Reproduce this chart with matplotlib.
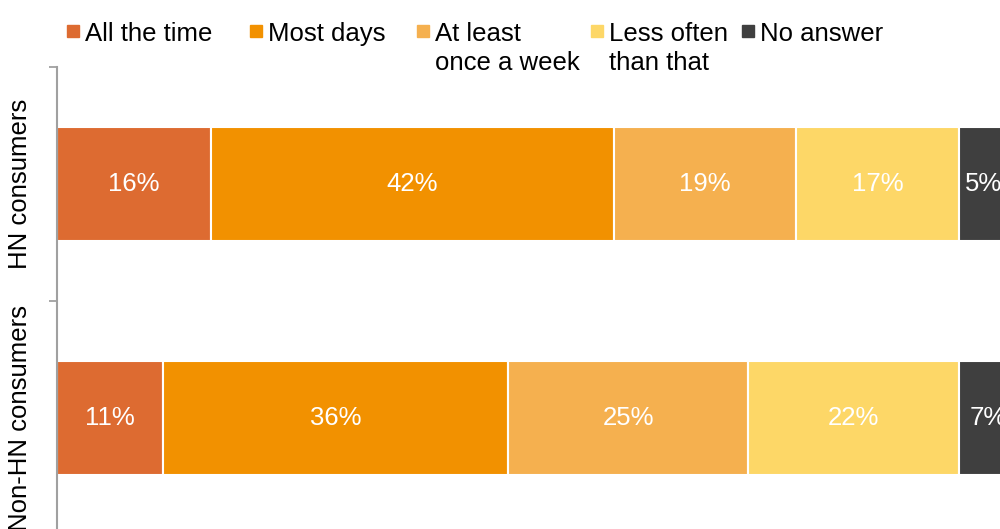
import numpy as np
import matplotlib.pyplot as plt
from matplotlib.patches import Rectangle

plt.rcParams['font.family'] = ['Liberation Sans', 'DejaVu Sans']

groups = ['HN consumers', 'Non-HN consumers']
answers = ['All the time', 'Most days', 'At least\nonce a week', 'Less often\nthan that', 'No answer']
colors = ['#dd6b31', '#f29100', '#f5b04f', '#fdd767', '#3f3f3f']

hn = [16, 42, 19, 17, 5]
non_hn = [11, 36, 25, 22, 7]

values = np.array([hn, non_hn])

fig = plt.figure(figsize=(10, 5.29), dpi=100)
# axes runs a little past the right and bottom edges of the figure
ax = fig.add_axes([0.057, -6 / 529, 0.96, 468 / 529])

y = np.arange(len(groups))
left = np.zeros(len(groups))
for i, name in enumerate(answers):
    bars = ax.barh(y, values[:, i], left=left, height=0.49, color=colors[i],
                   edgecolor='white', linewidth=1.5, label=name)
    ax.bar_label(bars, labels=[f'{v}%' for v in values[:, i]], label_type='center',
                 color='white', fontsize=18.5)
    left += values[:, i]

ax.set_xlim(0, 100)
ax.set_ylim(1.5, -0.5)
ax.set_xticks([])
ax.set_yticks(y)
ax.set_yticklabels(groups, rotation=90, va='center', fontsize=18.5)
ax.set_yticks([-0.5, 0.5, 1.5], minor=True)
ax.tick_params(axis='y', which='major', length=0, pad=18)
ax.tick_params(axis='y', which='minor', length=6, width=1.3, color='#a0a0a0')
for side in ['top', 'right', 'bottom']:
    ax.spines[side].set_visible(False)
ax.spines['left'].set_color('#a0a0a0')
ax.spines['left'].set_linewidth(1.5)

# legend row along the top, markers aligned with the first text line
legend_x = [67, 250, 417, 591, 742]
for x0, name, c in zip(legend_x, answers, colors):
    fig.patches.append(Rectangle((x0 / 1000, 1 - 37 / 529), 12 / 1000, 12 / 529,
                                 transform=fig.transFigure, color=c))
    fig.text((x0 + 18) / 1000, 1 - 22 / 529, name, fontsize=18.5,
             va='top', ha='left', linespacing=1.25)

fig.savefig('out.png', dpi=100)
